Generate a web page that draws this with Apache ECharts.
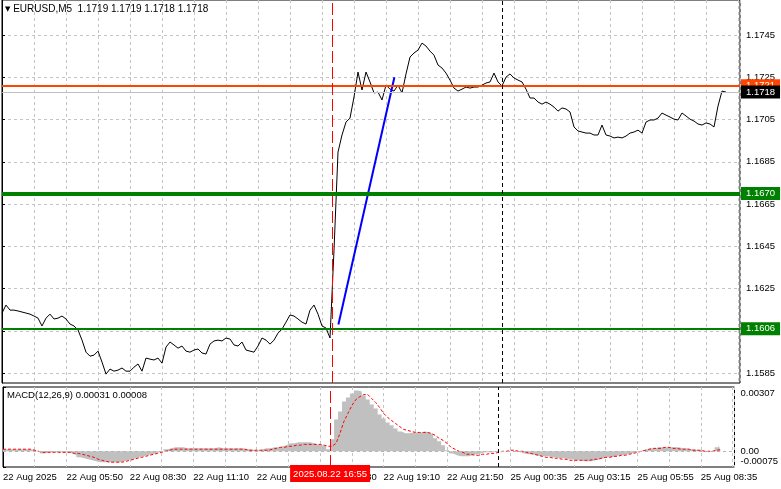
<!DOCTYPE html>
<html><head><meta charset="utf-8">
<script src="https://cdn.jsdelivr.net/npm/echarts@6/dist/echarts.min.js"></script>
<style>html,body{margin:0;padding:0;background:#fff}#c{width:781px;height:489px}</style>
</head><body><div id="c"></div>
<script>
// ---- text ----
const symbolName = 'EURUSD,M5';
const ohlc = ['1.1719', '1.1719', '1.1718', '1.1718'];
const macdTitle = 'MACD(12,26,9) 0.00031 0.00008';
// x tick labels, one every 16 samples (samples are 10 minutes apart)
const xTickLabels = ['22 Aug 2025', '22 Aug 05:50', '22 Aug 08:30', '22 Aug 11:10', '22 Aug 13:50', '22 Aug 16:30',
  '22 Aug 19:10', '22 Aug 21:50', '25 Aug 00:35', '25 Aug 03:15', '25 Aug 05:55', '25 Aug 08:35'];
const priceTicks = [1.1585, 1.1605, 1.1625, 1.1645, 1.1665, 1.1685, 1.1705, 1.1725, 1.1745];
const macdTicks = [-0.00075, 0, 0.00307];
const macdTickLabels = ['-0.00075', '0.00', '0.00307'];

// ---- series values (one sample every 10 minutes) ----
const price = [
  1.16134, 1.16172, 1.16148, 1.16148, 1.16144, 1.16139, 1.16134, 1.16129, 1.16120, 1.16110,
  1.16073, 1.16110, 1.16129, 1.16106, 1.16110, 1.16120, 1.16106, 1.16082, 1.16073, 1.16054,
  1.16006, 1.15949, 1.15930, 1.15935, 1.15954, 1.15902, 1.15845, 1.15869, 1.15859, 1.15864,
  1.15874, 1.15859, 1.15859, 1.15878, 1.15893, 1.15859, 1.15921, 1.15916, 1.15912, 1.15921,
  1.15897, 1.15973, 1.15997, 1.15983, 1.15968, 1.15978, 1.15954, 1.15949, 1.15959, 1.15964,
  1.15945, 1.15940, 1.15987, 1.16002, 1.16006, 1.16002, 1.16016, 1.16011, 1.15983, 1.15978,
  1.15997, 1.15959, 1.15954, 1.15949, 1.15978, 1.16016, 1.16006, 1.15987, 1.16006, 1.16039,
  1.16058, 1.16091, 1.16125, 1.16120, 1.16106, 1.16091, 1.16082, 1.16148, 1.16172, 1.16129,
  1.16073, 1.16063, 1.16016, 1.16432, 1.16896, 1.16977, 1.17038, 1.17057, 1.17157, 1.17275,
  1.17190, 1.17275, 1.17228, 1.17176, 1.17180, 1.17143, 1.17213, 1.17194, 1.17185, 1.17213,
  1.17176, 1.17266, 1.17346, 1.17365, 1.17379, 1.17412, 1.17398, 1.17374, 1.17355, 1.17308,
  1.17294, 1.17270, 1.17237, 1.17199, 1.17185, 1.17194, 1.17204, 1.17199, 1.17204, 1.17204,
  1.17213, 1.17223, 1.17228, 1.17270, 1.17228, 1.17209, 1.17251, 1.17266, 1.17247, 1.17237,
  1.17228, 1.17194, 1.17152, 1.17152, 1.17133, 1.17123, 1.17133, 1.17123, 1.17109, 1.17090,
  1.17105, 1.17100, 1.17086, 1.17015, 1.16996, 1.16991, 1.16986, 1.16986, 1.16977, 1.16977,
  1.17024, 1.16977, 1.16972, 1.16963, 1.16967, 1.16963, 1.16972, 1.16986, 1.16991, 1.17000,
  1.16986, 1.17038, 1.17048, 1.17048, 1.17057, 1.17081, 1.17071, 1.17062, 1.17052, 1.17048,
  1.17081, 1.17067, 1.17052, 1.17043, 1.17029, 1.17024, 1.17034, 1.17029, 1.17015, 1.17114,
  1.17185, 1.17180
];
const macdHist = [
  0.00010, 0.00010, 0.00010, 0.00010, 0.00010, 0.00010, 0.00010, 0.00010, 0.00005, 0,
  -0.00010, -0.00005, -0.00005, -0.00005, -0.00005, -0.00005, -0.00005, -0.00010, -0.00019, -0.00029,
  -0.00033, -0.00038, -0.00043, -0.00048, -0.00052, -0.00052, -0.00052, -0.00052, -0.00052, -0.00052,
  -0.00048, -0.00043, -0.00038, -0.00033, -0.00029, -0.00024, -0.00019, -0.00014, -0.00010, -0.00005,
  0, 0.00010, 0.00014, 0.00019, 0.00019, 0.00019, 0.00014, 0.00014, 0.00014, 0.00014,
  0.00014, 0.00014, 0.00014, 0.00014, 0.00019, 0.00014, 0.00014, 0.00014, 0.00014, 0.00014,
  0.00014, 0.00010, 0.00010, 0.00005, 0.00005, 0.00010, 0.00014, 0.00014, 0.00019, 0.00019,
  0.00024, 0.00029, 0.00038, 0.00038, 0.00043, 0.00043, 0.00043, 0.00043, 0.00038, 0.00033,
  0.00029, 0.00024, 0.00010, 0.00057, 0.00152, 0.00190, 0.00238, 0.00257, 0.00276, 0.00290,
  0.00285, 0.00266, 0.00247, 0.00223, 0.00204, 0.00176, 0.00157, 0.00138, 0.00124, 0.00109,
  0.00095, 0.00086, 0.00086, 0.00090, 0.00090, 0.00090, 0.00095, 0.00090, 0.00081, 0.00062,
  0.00048, 0.00029, 0.00005, -0.00010, -0.00019, -0.00024, -0.00024, -0.00024, -0.00019, -0.00014,
  -0.00010, -0.00005, -0.00005, -0.00005, 0, 0, 0, 0, 0, 0,
  -0.00005, -0.00010, -0.00014, -0.00014, -0.00019, -0.00024, -0.00024, -0.00024, -0.00029, -0.00029,
  -0.00033, -0.00033, -0.00038, -0.00038, -0.00043, -0.00043, -0.00048, -0.00048, -0.00048, -0.00043,
  -0.00038, -0.00033, -0.00029, -0.00029, -0.00024, -0.00019, -0.00019, -0.00014, -0.00010, -0.00005,
  0, 0.00005, 0.00010, 0.00014, 0.00014, 0.00019, 0.00019, 0.00019, 0.00019, 0.00019,
  0.00019, 0.00014, 0.00014, 0.00010, 0.00010, 0.00005, 0.00005, 0, 0, 0.00005,
  0.00019, 0.00031
];
const macdSignal = [
  0.00010, 0.00010, 0.00010, 0.00010, 0.00010, 0.00010, 0.00010, 0.00010, 0.00005, 0,
  -0.00005, -0.00005, -0.00005, -0.00005, -0.00005, -0.00005, -0.00005, -0.00005, -0.00010, -0.00010,
  -0.00014, -0.00019, -0.00024, -0.00029, -0.00038, -0.00043, -0.00048, -0.00052, -0.00052, -0.00052,
  -0.00052, -0.00048, -0.00043, -0.00038, -0.00033, -0.00029, -0.00024, -0.00019, -0.00014, -0.00010,
  -0.00005, 0, 0.00005, 0.00010, 0.00010, 0.00010, 0.00010, 0.00010, 0.00010, 0.00010,
  0.00010, 0.00010, 0.00010, 0.00010, 0.00010, 0.00010, 0.00010, 0.00010, 0.00010, 0.00010,
  0.00010, 0.00010, 0.00005, 0.00005, 0.00005, 0.00005, 0.00005, 0.00005, 0.00010, 0.00014,
  0.00019, 0.00019, 0.00024, 0.00024, 0.00029, 0.00029, 0.00033, 0.00033, 0.00033, 0.00033,
  0.00033, 0.00029, 0.00024, 0.00024, 0.00038, 0.00086, 0.00143, 0.00181, 0.00219, 0.00247,
  0.00261, 0.00271, 0.00271, 0.00252, 0.00233, 0.00209, 0.00181, 0.00162, 0.00147, 0.00133,
  0.00119, 0.00105, 0.00100, 0.00095, 0.00090, 0.00090, 0.00090, 0.00090, 0.00086, 0.00076,
  0.00062, 0.00052, 0.00038, 0.00019, 0.00010, 0, -0.00005, -0.00014, -0.00014, -0.00019,
  -0.00019, -0.00014, -0.00014, -0.00010, -0.00010, -0.00005, 0, 0, 0.00005, 0.00005,
  0, 0, -0.00005, -0.00010, -0.00014, -0.00019, -0.00024, -0.00029, -0.00029, -0.00033,
  -0.00033, -0.00038, -0.00038, -0.00043, -0.00043, -0.00043, -0.00043, -0.00043, -0.00043, -0.00038,
  -0.00038, -0.00033, -0.00029, -0.00029, -0.00024, -0.00024, -0.00019, -0.00019, -0.00014, -0.00010,
  -0.00005, 0, 0.00005, 0.00010, 0.00014, 0.00014, 0.00014, 0.00019, 0.00019, 0.00014,
  0.00014, 0.00010, 0.00010, 0.00010, 0.00005, 0.00005, 0.00005, 0, 0, 0,
  0.00005, 0.00008
];

// ---- levels / annotations (in data units) ----
const levelPrices = [1.1721, 1.1718, 1.1670, 1.1606]; // resistance (orange), bid (gray), green levels
const trendIndex = [84.1, 98.1];
const trendPrice = [1.1608, 1.1725];
const crosshairIndex = 82.5;            // 22 Aug 16:55
const crosshairLabel = '2025.08.22 16:55';
const sessionBreakIndex = 125;          // 25 Aug 00:05
const xMax = 184.5;
const priceMin = 1.15803, priceMax = 1.17616;
const macdMin = -0.00075, macdMax = 0.00307;

// ---- styles ----
const FONT = 'Liberation Sans';
const FS = 9.5;
const gridDash = { color: '#c4c4c4', type: [3, 3], width: 1 };
const levelColors = ['#ff4500', '#c0c0c0', '#008000', '#008000'];
const levelBoxColors = ['#ff4500', '#000000', '#008000', '#008000'];
const levelWidths = [2, 1, 4, 2];

const chart = echarts.init(document.getElementById('c'), null, { renderer: 'canvas' });

const priceData = price.map((v, i) => [i, v]);
const histData = macdHist.map((v, i) => [i, v]);
const sigData = macdSignal.map((v, i) => [i, v]);
const trendData = trendIndex.map((x, k) => [x, trendPrice[k]]);

const levelLines = levelPrices.map((p, k) => ({
  yAxis: p,
  lineStyle: { color: levelColors[k], width: levelWidths[k], type: 'solid' },
  label: {
    show: true, position: 'end', distance: 1, formatter: p.toFixed(4),
    color: '#fff', backgroundColor: levelBoxColors[k], padding: [2, 5, 1, 5],
    fontSize: FS, fontFamily: FONT
  }
}));

const xAxisCommon = {
  type: 'value', min: 0, max: xMax, interval: 8,
  axisLine: { show: false },
  axisTick: { show: false },
  splitLine: { show: true, lineStyle: gridDash }
};

const option = {
  animation: false,
  backgroundColor: '#ffffff',
  textStyle: { fontFamily: FONT },
  title: [
    {
      text: '{tri|▼} ' + symbolName + '  ' + ohlc.join(' '),
      left: 5, top: 4, padding: 0,
      textStyle: {
        fontSize: 10, fontWeight: 'normal', color: '#000', fontFamily: FONT,
        rich: { tri: { fontSize: 7, color: '#000', fontFamily: 'DejaVu Sans' } }
      }
    },
    {
      text: macdTitle, left: 7, top: 390, padding: 0,
      textStyle: { fontSize: FS, fontWeight: 'normal', color: '#000', fontFamily: FONT }
    }
  ],
  grid: [
    { left: 2, top: 0, width: 738, height: 383, show: true, borderColor: '#000', borderWidth: 1 },
    { left: 2, top: 387, width: 738, height: 80, show: true, borderColor: '#000', borderWidth: 1 }
  ],
  xAxis: [
    Object.assign({}, xAxisCommon, { gridIndex: 0, axisLabel: { show: false } }),
    Object.assign({}, xAxisCommon, {
      gridIndex: 1,
      axisLabel: {
        show: true, showMinLabel: true, showMaxLabel: false, align: 'left', margin: 5,
        fontSize: FS, color: '#000', fontFamily: FONT,
        formatter: v => (v % 16 === 0 && xTickLabels[v / 16] !== undefined) ? xTickLabels[v / 16] : ''
      }
    })
  ],
  yAxis: [
    {
      gridIndex: 0, type: 'value', position: 'right', min: priceMin, max: priceMax,
      axisLine: { show: true, lineStyle: { color: '#000' } },
      axisTick: { show: true, length: 3, customValues: priceTicks, lineStyle: { color: '#000' } },
      axisLabel: { customValues: priceTicks, formatter: v => v.toFixed(4), margin: 6,
        fontSize: FS, color: '#000', fontFamily: FONT },
      splitLine: { show: true, lineStyle: gridDash }
    },
    {
      gridIndex: 1, type: 'value', position: 'right', min: macdMin, max: macdMax,
      axisLine: { show: true, lineStyle: { color: '#000' } },
      axisTick: { show: true, length: 3, customValues: macdTicks, lineStyle: { color: '#000' } },
      axisLabel: {
        customValues: macdTicks, margin: 6, fontSize: FS, color: '#000', fontFamily: FONT,
        formatter: v => {
          const k = macdTicks.findIndex(t => Math.abs(t - v) < 1e-9);
          const s = k >= 0 ? macdTickLabels[k] : '';
          if (k === 2) return '{t|' + s + '}';
          if (k === 0) return '{b|' + s + '}';
          return s;
        },
        rich: {
          t: { padding: [13, 0, 0, 0], fontSize: FS, color: '#000', fontFamily: FONT },
          b: { padding: [0, 0, 11, 0], fontSize: FS, color: '#000', fontFamily: FONT }
        }
      },
      splitLine: { show: false }
    }
  ],
  series: [
    {
      type: 'line', name: 'price', xAxisIndex: 0, yAxisIndex: 0, data: priceData,
      symbol: 'none', lineStyle: { color: '#000', width: 1 }, z: 3, silent: true,
      markLine: {
        silent: true, symbol: ['none', 'none'], animation: false, precision: 6,
        data: levelLines.concat([
          { xAxis: crosshairIndex, lineStyle: { color: '#ff0000', type: [12, 4], width: 1 }, label: { show: false } },
          { xAxis: sessionBreakIndex, lineStyle: { color: '#000', type: [4, 3], width: 1 }, label: { show: false } }
        ])
      }
    },
    {
      type: 'line', name: 'trend', xAxisIndex: 0, yAxisIndex: 0, data: trendData,
      symbol: 'none', lineStyle: { color: '#0000ff', width: 2 }, z: 4, silent: true
    },
    {
      type: 'line', name: 'MACD', xAxisIndex: 1, yAxisIndex: 1, data: histData,
      step: 'middle', symbol: 'none', lineStyle: { width: 0, color: '#c0c0c0' },
      areaStyle: { color: '#c0c0c0', opacity: 1, origin: 0 }, z: 2, silent: true,
      markLine: {
        silent: true, symbol: ['none', 'none'], animation: false, precision: 6,
        data: [
          { yAxis: 0, lineStyle: { color: '#b4b4b4', type: [3, 3], width: 1 }, label: { show: false } },
          { xAxis: sessionBreakIndex, lineStyle: { color: '#000', type: [4, 3], width: 1 }, label: { show: false } },
          {
            xAxis: crosshairIndex, lineStyle: { color: '#ff0000', type: [12, 4], width: 1 },
            label: {
              show: true, position: 'start', distance: -2, formatter: crosshairLabel,
              color: '#fff', backgroundColor: '#ff0000', padding: [4, 3, 3, 3],
              fontSize: FS, fontFamily: FONT
            }
          }
        ]
      }
    },
    {
      type: 'line', name: 'Signal', xAxisIndex: 1, yAxisIndex: 1, data: sigData,
      symbol: 'none', lineStyle: { color: '#ff0000', width: 1, type: [3, 2] }, z: 4, silent: true
    }
  ]
};
chart.setOption(option);
</script>
</body></html>
